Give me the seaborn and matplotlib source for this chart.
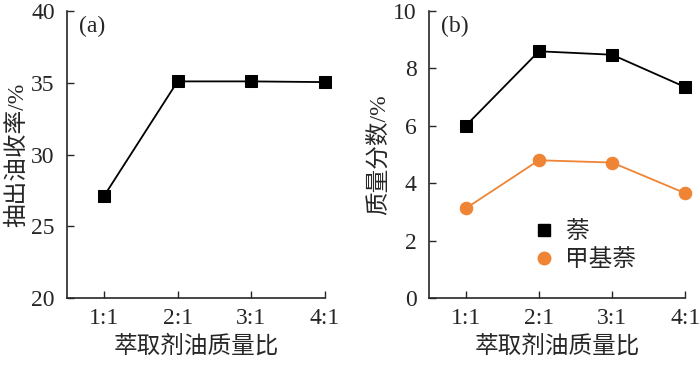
import pandas as pd
import matplotlib
matplotlib.use('Agg')
import matplotlib.pyplot as plt
import seaborn as sns
from matplotlib.lines import Line2D

# 数据
ratios = ['1:1', '2:1', '3:1', '4:1']
oil_yield = [27.1, 35.1, 35.1, 35.05]
naphthalene = [6.0, 8.6, 8.48, 7.35]
methyl_naphthalene = [3.12, 4.8, 4.72, 3.65]

sns.set_style('ticks')
plt.rcParams['font.family'] = ['Liberation Serif', 'Noto Sans CJK SC']
plt.rcParams['font.size'] = 17
plt.rcParams['axes.unicode_minus'] = False

orange = '#EE8434'

df_a = pd.DataFrame({'ratio': ratios, 'yield': oil_yield})
df_b = pd.DataFrame({'ratio': ratios, '萘': naphthalene, '甲基萘': methyl_naphthalene})

fig = plt.figure(figsize=(7, 3.71), dpi=100)
ax1 = fig.add_axes([0.096, 0.197, 0.368, 0.773])
ax2 = fig.add_axes([0.613, 0.197, 0.366, 0.773])

# (a) 抽出油收率
sns.lineplot(data=df_a, x='ratio', y='yield', ax=ax1, color='black', lw=1.3,
             marker='s', markersize=8, markeredgecolor='black', sort=False, clip_on=False)
ax1.set_ylim(20, 40)
ax1.set_yticks([20, 25, 30, 35, 40])
ax1.set_ylabel('抽出油收率/%', labelpad=2)
ax1.text(0.045, 0.985, '(a)', transform=ax1.transAxes, va='top', ha='left', fontsize=17)

# (b) 质量分数
sns.lineplot(data=df_b, x='ratio', y='萘', ax=ax2, color='black', lw=1.3,
             marker='s', markersize=8, markeredgecolor='black', sort=False, clip_on=False)
sns.lineplot(data=df_b, x='ratio', y='甲基萘', ax=ax2, color=orange, lw=1.3,
             marker='o', markersize=9, markeredgecolor=orange, sort=False, clip_on=False)
ax2.set_ylim(0, 10)
ax2.set_yticks([0, 2, 4, 6, 8, 10])
ax2.set_ylabel('质量分数/%', labelpad=2)
ax2.text(0.045, 0.985, '(b)', transform=ax2.transAxes, va='top', ha='left', fontsize=17)

handles = [Line2D([], [], ls='none', marker='s', color='black', markersize=8),
           Line2D([], [], ls='none', marker='o', color=orange, markersize=9)]
ax2.legend(handles, ['萘', '甲基萘'], loc='center left', bbox_to_anchor=(0.31, 0.18),
           frameon=False, fontsize=17, handletextpad=0.3, labelspacing=0.25,
           handlelength=1.2)

for ax in (ax1, ax2):
    ax.set_xlim(-0.5, 3)
    ax.set_xlabel('萃取剂油质量比', labelpad=5)
    sns.despine(ax=ax)
    ax.tick_params(direction='in', length=5, width=1, pad=7)
    ax.tick_params(axis='y', pad=9)
    for s in ('left', 'bottom'):
        ax.spines[s].set_linewidth(1.2)

fig.savefig('out.png', dpi=100)
